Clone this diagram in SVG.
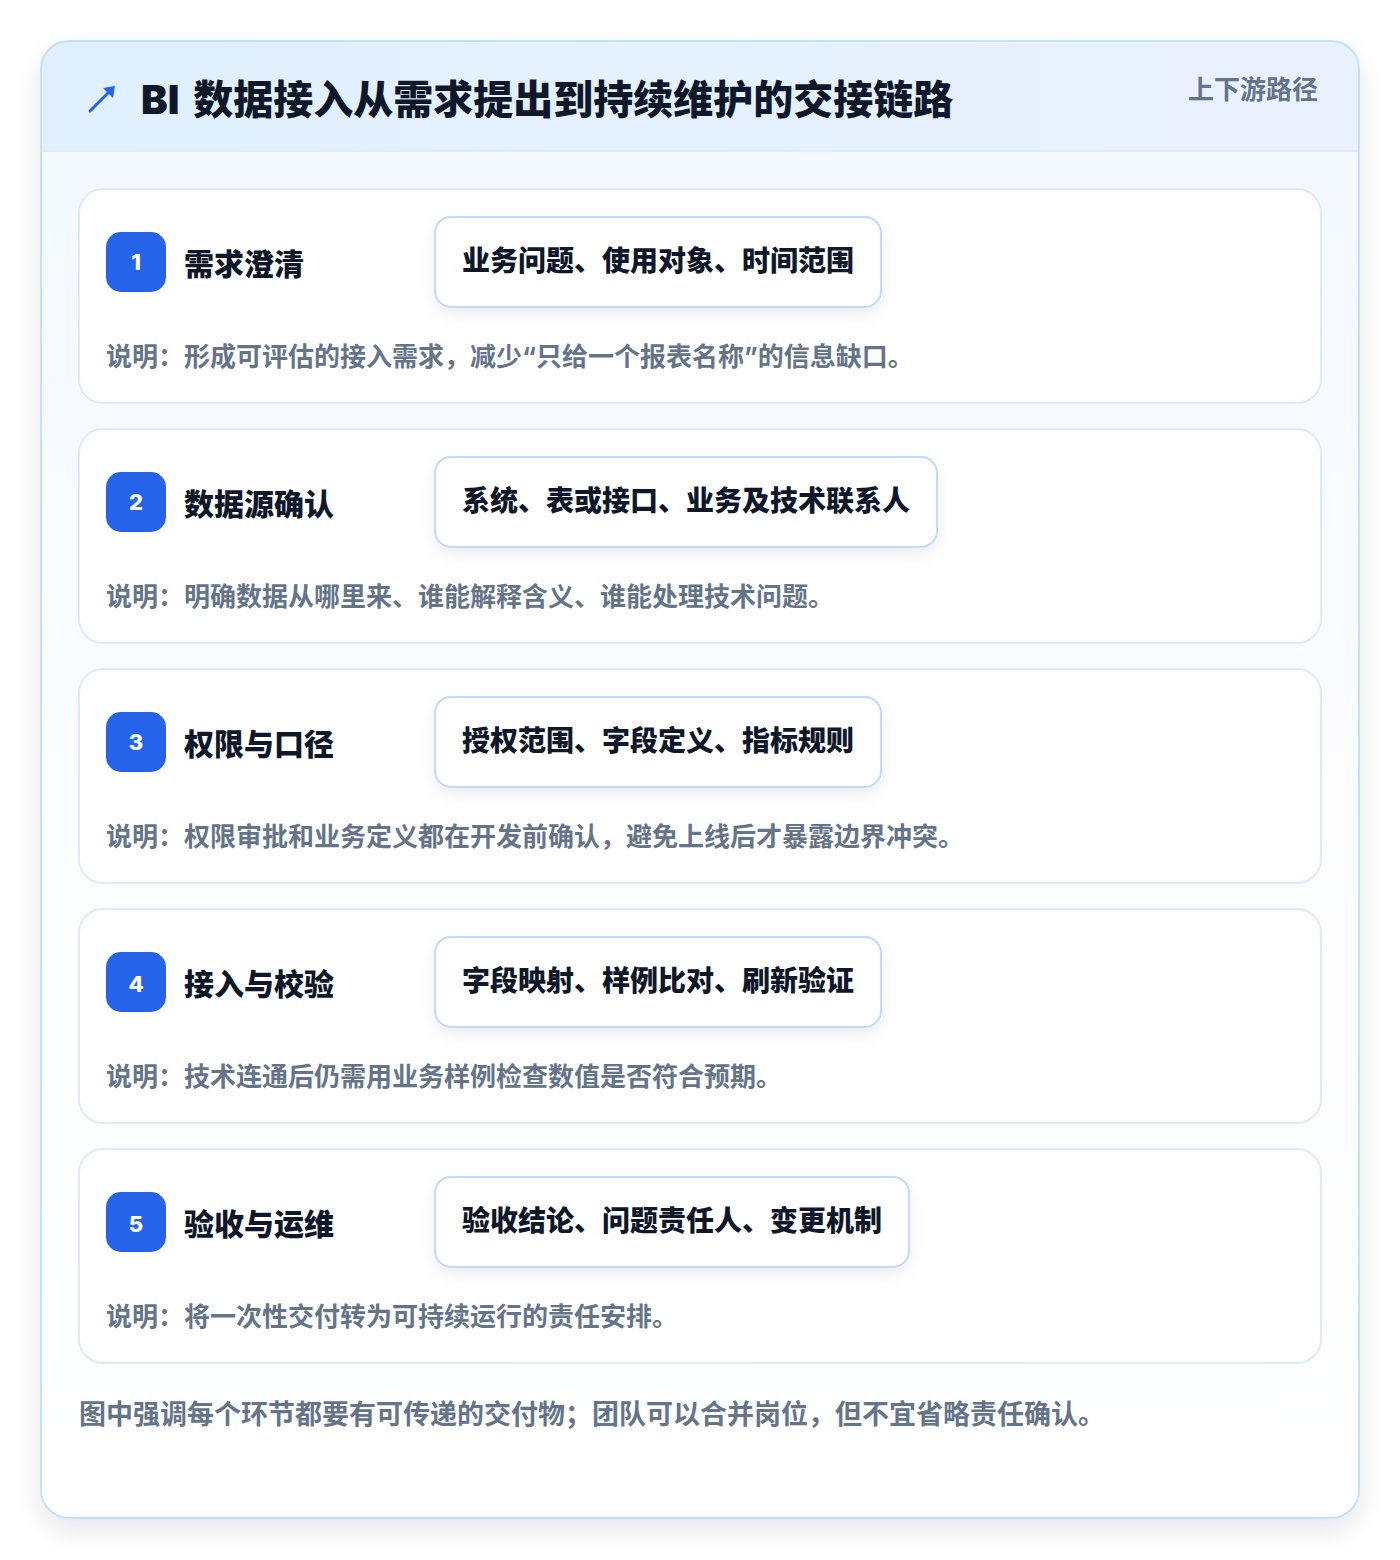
<svg xmlns="http://www.w3.org/2000/svg" width="1400" height="1560" viewBox="0 0 1400 1560">
<defs>
<style>
.t{font-family:Inter,"Noto Sans CJK SC","Liberation Sans",sans-serif;font-weight:700}
.title{font-size:40px;fill:#0f172a;font-weight:900}
.tag{font-size:26px;fill:#64748b}
.step{fill:#ffffff;stroke:#dbeafe;stroke-width:2}
.badge{fill:#2563eb}
.num{font-size:22px;fill:#ffffff;font-weight:800}
.name{font-size:30px;fill:#0f172a;font-weight:900}
.pill{fill:#ffffff;stroke:#bfdbfe;stroke-width:2}
.ptxt{font-size:28px;fill:#0f172a;font-weight:900}
.desc{font-size:26px;fill:#64748b}
.foot{font-size:27px;fill:#64748b}
</style>
<linearGradient id="hdr" x1="0" y1="0" x2="1" y2="0">
<stop offset="0" stop-color="#e0f0fe"/>
<stop offset="1" stop-color="#eaf1fe"/>
</linearGradient>
<linearGradient id="body" x1="0" y1="0" x2="0" y2="1">
<stop offset="0" stop-color="#f2f8ff"/>
<stop offset="0.5" stop-color="#fbfdff"/>
<stop offset="1" stop-color="#ffffff"/>
</linearGradient>
<filter id="sh" x="-10%" y="-10%" width="120%" height="120%">
<feDropShadow dx="0" dy="12" stdDeviation="14" flood-color="#0f172a" flood-opacity="0.10"/>
</filter>
<filter id="psh" x="-20%" y="-40%" width="140%" height="180%">
<feDropShadow dx="0" dy="6" stdDeviation="8" flood-color="#0f172a" flood-opacity="0.07"/>
</filter>
<clipPath id="cardclip"><rect x="41" y="41" width="1318" height="1477" rx="28"/></clipPath>
</defs>
<rect width="1400" height="1560" fill="#ffffff"/>
<g id="card">
<rect x="41" y="41" width="1318" height="1477" rx="28" fill="url(#body)" filter="url(#sh)"/>
<g clip-path="url(#cardclip)">
<rect x="41" y="41" width="1318" height="110" fill="url(#hdr)"/>
<line x1="41" y1="151" x2="1359" y2="151" stroke="#dbeafe" stroke-width="2"/>
</g>
<rect x="41" y="41" width="1318" height="1477" rx="28" fill="none" stroke="#bfe3fb" stroke-width="2"/>
</g>
<g id="header">
<g stroke="#2563eb" stroke-width="3" fill="none" stroke-linecap="round">
<line x1="90" y1="111" x2="112" y2="89"/>
</g>
<polygon points="115,86 103,88 113,98" fill="#2563eb"/>
<text class="t title" x="141" y="114">BI<tspan dx="6"> 数据接入从需求提出到持续维护的交接链路</tspan></text>
<text class="t tag" x="1318" y="99" text-anchor="end">上下游路径</text>
</g>
<g id="connectors"></g>
<g id="step1">
<rect class="step" x="79" y="189" width="1242" height="214" rx="24"/>
<rect class="badge" x="106" y="232" width="60" height="60" rx="15"/>
<text class="t num" x="136" y="270" text-anchor="middle">1</text>
<text class="t name" x="184" y="275">需求澄清</text>
<rect class="pill" x="435" y="217" width="446" height="90" rx="16" filter="url(#psh)"/>
<text class="t ptxt" x="462" y="271">业务问题、使用对象、时间范围</text>
<text class="t desc" x="106" y="366">说明：形成可评估的接入需求，减少“只给一个报表名称”的信息缺口。</text>
</g>
<g id="step2">
<rect class="step" x="79" y="429" width="1242" height="214" rx="24"/>
<rect class="badge" x="106" y="472" width="60" height="60" rx="15"/>
<text class="t num" x="136" y="510" text-anchor="middle">2</text>
<text class="t name" x="184" y="515">数据源确认</text>
<rect class="pill" x="435" y="457" width="502" height="90" rx="16" filter="url(#psh)"/>
<text class="t ptxt" x="462" y="511">系统、表或接口、业务及技术联系人</text>
<text class="t desc" x="106" y="606">说明：明确数据从哪里来、谁能解释含义、谁能处理技术问题。</text>
</g>
<g id="step3">
<rect class="step" x="79" y="669" width="1242" height="214" rx="24"/>
<rect class="badge" x="106" y="712" width="60" height="60" rx="15"/>
<text class="t num" x="136" y="750" text-anchor="middle">3</text>
<text class="t name" x="184" y="755">权限与口径</text>
<rect class="pill" x="435" y="697" width="446" height="90" rx="16" filter="url(#psh)"/>
<text class="t ptxt" x="462" y="751">授权范围、字段定义、指标规则</text>
<text class="t desc" x="106" y="846">说明：权限审批和业务定义都在开发前确认，避免上线后才暴露边界冲突。</text>
</g>
<g id="step4">
<rect class="step" x="79" y="909" width="1242" height="214" rx="24"/>
<rect class="badge" x="106" y="952" width="60" height="60" rx="15"/>
<text class="t num" x="136" y="992" text-anchor="middle">4</text>
<text class="t name" x="184" y="995">接入与校验</text>
<rect class="pill" x="435" y="937" width="446" height="90" rx="16" filter="url(#psh)"/>
<text class="t ptxt" x="462" y="991">字段映射、样例比对、刷新验证</text>
<text class="t desc" x="106" y="1086">说明：技术连通后仍需用业务样例检查数值是否符合预期。</text>
</g>
<g id="step5">
<rect class="step" x="79" y="1149" width="1242" height="214" rx="24"/>
<rect class="badge" x="106" y="1192" width="60" height="60" rx="15"/>
<text class="t num" x="136" y="1232" text-anchor="middle">5</text>
<text class="t name" x="184" y="1235">验收与运维</text>
<rect class="pill" x="435" y="1177" width="474" height="90" rx="16" filter="url(#psh)"/>
<text class="t ptxt" x="462" y="1231">验收结论、问题责任人、变更机制</text>
<text class="t desc" x="106" y="1326">说明：将一次性交付转为可持续运行的责任安排。</text>
</g>
<g id="footer">
<text class="t foot" x="79" y="1424">图中强调每个环节都要有可传递的交付物；团队可以合并岗位，但不宜省略责任确认。</text>
</g>
</svg>
